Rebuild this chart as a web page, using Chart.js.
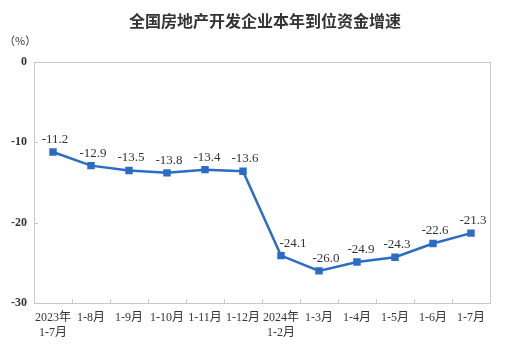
<!DOCTYPE html>
<html><head><meta charset="utf-8">
<script src="https://cdn.jsdelivr.net/npm/chart.js@4/dist/chart.umd.min.js"></script>
<style>html,body{margin:0;padding:0;background:#fff}#wrap{width:529px;height:358px}</style>
</head><body><div id="wrap"><canvas id="c" width="529" height="358"></canvas></div>
<script>
const categories = [["2023年","1-7月"],"1-8月","1-9月","1-10月","1-11月","1-12月",["2024年","1-2月"],"1-3月","1-4月","1-5月","1-6月","1-7月"];
const growth = [-11.2,-12.9,-13.5,-13.8,-13.4,-13.6,-24.1,-26.0,-24.9,-24.3,-22.6,-21.3];
const yTicks = [0,-10,-20,-30];
const titleText = "全国房地产开发企业本年到位资金增速";
const unitText = "（%）";

const SERIF = "'Liberation Serif','Times New Roman','Noto Sans CJK SC',serif";
const decor = {
  id:'decor',
  afterDraw(chart){
    const ctx = chart.ctx, a = chart.chartArea;
    ctx.save();
    ctx.strokeStyle = '#c8c8c8'; ctx.lineWidth = 1;
    ctx.strokeRect(Math.round(a.left)+0.5, Math.round(a.top)+0.5, Math.round(a.right-a.left), Math.round(a.bottom-a.top));
    const xs = chart.scales.x;
    const step = (xs.getPixelForValue(1)-xs.getPixelForValue(0));
    ctx.beginPath();
    for(let i=1;i<categories.length;i++){
      const x = Math.round(xs.getPixelForValue(i)-step/2)+0.5;
      ctx.moveTo(x,a.bottom); ctx.lineTo(x,a.bottom-4);
    }
    const ys = chart.scales.y;
    [-10,-20].forEach(v=>{const y=Math.round(ys.getPixelForValue(v))+0.5;ctx.moveTo(a.left,y);ctx.lineTo(a.left+4,y);});
    ctx.stroke();
    ctx.fillStyle='#333';
    ctx.font="bold 16px 'Noto Sans CJK SC'";
    ctx.textAlign='center'; ctx.textBaseline='middle';
    ctx.fillText(titleText, 265, 21);
    ctx.font="11px 'Noto Sans CJK SC'";
    ctx.textAlign='left';
    ctx.fillText(unitText, 4, 41);
    const meta = chart.getDatasetMeta(0);
    ctx.font = "13px "+SERIF;
    ctx.fillStyle='#333';
    ctx.textAlign='center'; ctx.textBaseline='bottom';
    meta.data.forEach((p,i)=>{
      const dx = i===6 ? 12 : (i===7 ? 7 : (i===8 ? 4 : 2));
      ctx.fillText(growth[i].toFixed(1), p.x+dx, p.y-6);
    });
    ctx.restore();
  }
};

new Chart(document.getElementById('c'),{
  type:'line',
  data:{labels:categories,datasets:[{
    data:growth,
    borderColor:'#2b6cc4',backgroundColor:'#2b6cc4',
    borderWidth:2.5,pointStyle:'rect',pointRadius:3.5,pointHoverRadius:3.5,
    tension:0
  }]},
  options:{
    responsive:false,animation:false,
    layout:{padding:{top:62,right:39,left:0,bottom:0}},
    plugins:{legend:{display:false},tooltip:{enabled:false},title:{display:false}},
    scales:{
      x:{offset:true,grid:{display:false,drawTicks:false},border:{display:false},
        ticks:{color:'#333',font:{family:SERIF,size:12},padding:8,maxRotation:0,autoSkip:false},
        afterFit(s){s.height=55;}},
      y:{min:-30,max:0,grid:{display:false,drawTicks:false},border:{display:false},
        afterBuildTicks(s){s.ticks=yTicks.map(v=>({value:v}));},
        ticks:{color:'#333',font:{family:SERIF,size:12,weight:'bold'},padding:7},
        afterFit(s){s.width=34;}}
    }
  },
  plugins:[decor]
});
</script></body></html>
